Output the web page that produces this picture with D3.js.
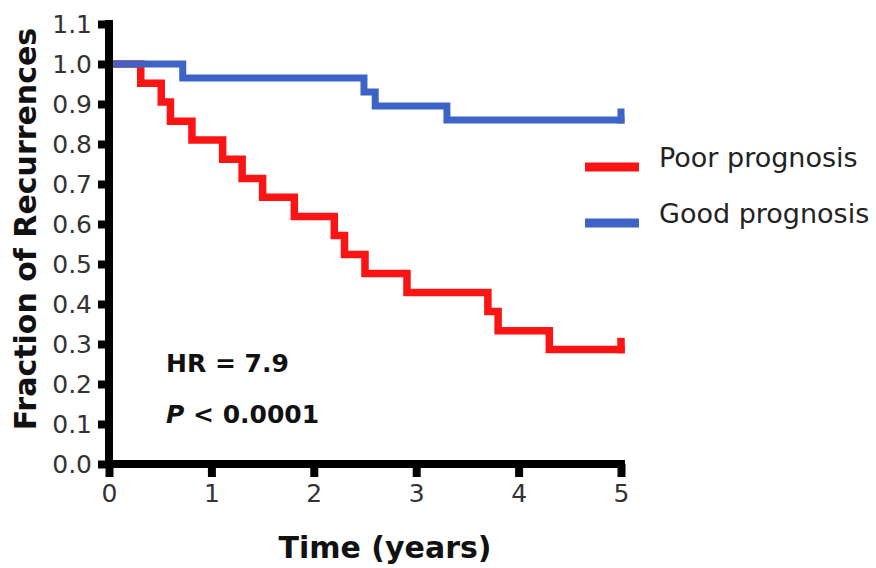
<!DOCTYPE html>
<html><head><meta charset="utf-8">
<script src="https://cdn.jsdelivr.net/npm/d3@7"></script>
<style>html,body{margin:0;padding:0;background:#fff;}svg{display:block;}</style>
</head><body>
<svg id="chart" width="876" height="568"></svg>
<script>
// ---- data ----
const poorTimes  = [0, 0.31, 0.51, 0.60, 0.81, 1.11, 1.30, 1.50, 1.81, 2.20, 2.30, 2.50, 2.91, 3.70, 3.80, 4.30, 5.0];
const poorValues = [1.0, 0.952, 0.905, 0.857, 0.810, 0.762, 0.714, 0.667, 0.619, 0.571, 0.524, 0.476, 0.429, 0.381, 0.333, 0.286, 0.286];
const goodTimes  = [0, 0.72, 2.49, 2.60, 3.30, 5.0];
const goodValues = [1.0, 0.965, 0.930, 0.895, 0.860, 0.860];
const xTicks = [0, 1, 2, 3, 4, 5];
const yTicks = [0, 0.1, 0.2, 0.3, 0.4, 0.5, 0.6, 0.7, 0.8, 0.9, 1.0, 1.1];
const seriesNames = ["Poor prognosis", "Good prognosis"];
const seriesColors = ["#fb1414", "#3d63c6"];
const xTitle = "Time (years)";
const yTitle = "Fraction of Recurrences";
const hrText = "HR = 7.9";
const pText = ["P", " < 0.0001"];

// ---- layout ----
const svg = d3.select("#chart");
const x = d3.scaleLinear().domain([0, 5]).range([109, 621]);
const y = d3.scaleLinear().domain([0, 1.1]).range([464, 24]);
const font = "'DejaVu Sans', sans-serif";

// curves
const line = d3.line().x(d => x(d[0])).y(d => y(d[1])).curve(d3.curveStepAfter);
function drawSeries(times, values, color, w) {
  const pts = times.map((t, i) => [t, values[i]]);
  svg.append("path").attr("d", line(pts))
    .attr("fill", "none").attr("stroke", color).attr("stroke-width", w)
    .attr("stroke-linejoin", "miter").attr("stroke-linecap", "square");
  // censor mark at end
  const last = pts[pts.length - 1];
  svg.append("line")
    .attr("x1", x(last[0])).attr("x2", x(last[0]))
    .attr("y1", y(last[1])).attr("y2", y(last[1]) - 8)
    .attr("stroke", color).attr("stroke-width", w).attr("stroke-linecap", "square");
}
drawSeries(poorTimes, poorValues, seriesColors[0], 7.5);
drawSeries(goodTimes, goodValues, seriesColors[1], 7);

// axes
const yAxis = svg.append("g").attr("transform", "translate(109,0)")
  .call(d3.axisLeft(y).tickValues(yTicks).tickFormat(d3.format(".1f")).tickSize(11).tickPadding(6));
const xAxis = svg.append("g").attr("transform", "translate(0,464)")
  .call(d3.axisBottom(x).tickValues(xTicks).tickFormat(d3.format("d")).tickSize(13).tickPadding(7));
[yAxis, xAxis].forEach(g => {
  g.select(".domain").remove();
  g.selectAll(".tick line").attr("stroke", "#000").attr("stroke-width", 8);
  g.selectAll(".tick text").attr("font-family", font).attr("font-size", 25).attr("fill", "#333");
});
yAxis.selectAll(".tick line").attr("stroke-width", 8).attr("x2", -11);
// axis lines
svg.append("line").attr("x1", 109).attr("x2", 109).attr("y1", y(1.1) - 4).attr("y2", y(0) + 4)
  .attr("stroke", "#000").attr("stroke-width", 8);
svg.append("line").attr("x1", 105).attr("x2", x(5) + 4).attr("y1", y(0)).attr("y2", y(0))
  .attr("stroke", "#000").attr("stroke-width", 8);

// titles
svg.append("text").attr("x", 385).attr("y", 558).attr("text-anchor", "middle")
  .attr("font-family", font).attr("font-weight", "bold").attr("font-size", 30).attr("fill", "#111")
  .text(xTitle);
svg.append("text").attr("transform", "translate(36,229) rotate(-90)").attr("text-anchor", "middle")
  .attr("font-family", font).attr("font-weight", "bold").attr("font-size", 30).attr("fill", "#111")
  .text(yTitle);

// annotations
svg.append("text").attr("x", 166).attr("y", 372)
  .attr("font-family", font).attr("font-weight", "bold").attr("font-size", 25).attr("fill", "#111")
  .text(hrText);
const pt = svg.append("text").attr("x", 166).attr("y", 423)
  .attr("font-family", font).attr("font-weight", "bold").attr("font-size", 25).attr("fill", "#111");
pt.append("tspan").attr("font-style", "italic").text(pText[0]);
pt.append("tspan").text(pText[1]);

// legend
const legY = [167, 223];
seriesNames.forEach((name, i) => {
  svg.append("line").attr("x1", 585).attr("x2", 639).attr("y1", legY[i]).attr("y2", legY[i])
    .attr("stroke", seriesColors[i]).attr("stroke-width", 9);
  svg.append("text").attr("x", 659).attr("y", legY[i])
    .attr("font-family", font).attr("font-size", 27).attr("fill", "#222").text(name);
});
</script>
</body></html>
